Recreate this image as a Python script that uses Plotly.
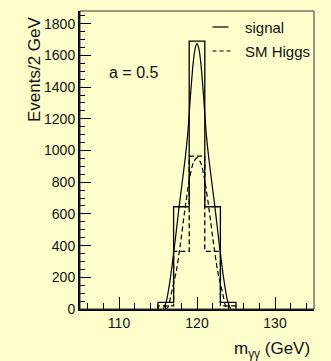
import plotly.graph_objects as go

# ---- data ----
bin_edges = [115, 117, 119, 121, 123, 125]
signal_counts = [42, 645, 1690, 645, 42]
sm_counts = [20, 364, 965, 364, 20]

signal_curve_x = [115.7, 116.1, 116.6, 117.15, 117.7, 118.45, 118.85, 119.15, 119.5, 119.75, 120.0,
                  120.25, 120.5, 120.85, 121.15, 121.55, 122.3, 122.85, 123.4, 123.9, 124.3]
signal_curve_y = [0, 55, 200, 410, 643, 935, 1127, 1337, 1548, 1640, 1674,
                  1640, 1548, 1337, 1127, 935, 643, 410, 200, 55, 0]

sm_curve_x = [116.0, 116.3, 116.7, 117.37, 117.88, 118.43, 119.0, 119.5, 120.0,
              120.5, 121.0, 121.57, 122.12, 122.63, 123.3, 123.7, 124.0]
sm_curve_y = [0, 13, 97, 244, 412, 621, 811, 920, 955,
              920, 811, 621, 412, 244, 97, 13, 0]

x_range = [105, 135]
y_range = [0, 1880]

BG = "#ffffcc"
FONT = "Liberation Sans, Arial, sans-serif"


def step_outline(edges, counts):
    xs = [edges[0]]
    ys = [0]
    for i, c in enumerate(counts):
        xs += [edges[i], edges[i + 1]]
        ys += [c, c]
    xs.append(edges[-1])
    ys.append(0)
    return xs, ys


fig = go.Figure()

hx, hy = step_outline(bin_edges, signal_counts)
fig.add_trace(go.Scatter(x=hx, y=hy, mode="lines", line=dict(color="black", width=1.3),
                         showlegend=False, hoverinfo="skip"))
hx2, hy2 = step_outline(bin_edges, sm_counts)
fig.add_trace(go.Scatter(x=hx2, y=hy2, mode="lines",
                         line=dict(color="black", width=1.3, dash="5px,3px"),
                         showlegend=False, hoverinfo="skip"))
fig.add_trace(go.Scatter(x=signal_curve_x, y=signal_curve_y, mode="lines",
                         line=dict(color="black", width=1.2, shape="spline", smoothing=0.6),
                         showlegend=False, hoverinfo="skip"))
fig.add_trace(go.Scatter(x=sm_curve_x, y=sm_curve_y, mode="lines",
                         line=dict(color="black", width=1.2, dash="5px,3px", shape="spline", smoothing=0.6),
                         showlegend=False, hoverinfo="skip"))

# plot area in pixels: left 80, right 314, top 11, bottom 309
L, R, T, B = 80, 314, 11, 309
W, H = R - L, B - T


def px(xp):
    return (xp - L) / W


def py(yp):
    return (B - yp) / H


fig.update_layout(
    width=331, height=361,
    margin=dict(l=L, r=331 - R, t=T, b=361 - B),
    paper_bgcolor=BG, plot_bgcolor=BG,
    font=dict(family=FONT, size=14, color="#111"),
    showlegend=False,
    xaxis=dict(range=x_range, showgrid=False, zeroline=False,
               showline=True, linecolor="black", linewidth=2,
               ticks="inside", ticklen=12, tickwidth=1.2, tickcolor="black",
               tick0=110, dtick=10,
               minor=dict(ticks="inside", ticklen=6, tickwidth=1.2, tickcolor="black", dtick=2, tick0=110),
               tickfont=dict(size=14, family=FONT, color="#111")),
    yaxis=dict(range=y_range, showgrid=False, zeroline=False,
               showline=True, linecolor="black", linewidth=2,
               ticks="inside", ticklen=11, tickwidth=1.2, tickcolor="black",
               tick0=0, dtick=200,
               minor=dict(ticks="inside", ticklen=5, tickwidth=1.2, tickcolor="black", dtick=50),
               tickfont=dict(size=14, family=FONT, color="#111")),
    shapes=[
        dict(type="rect", xref="paper", yref="paper", x0=0, x1=1, y0=0, y1=1,
             line=dict(color="#333", width=1)),
        dict(type="line", xref="paper", yref="paper", x0=px(212.5), x1=px(228.5), y0=py(27), y1=py(27),
             line=dict(color="black", width=1.2)),
        dict(type="line", xref="paper", yref="paper", x0=px(212.5), x1=px(232), y0=py(51), y1=py(51),
             line=dict(color="black", width=1.2, dash="4px,3px")),
    ],
    annotations=[
        dict(text="signal", xref="paper", yref="paper", x=px(242.5), y=py(27),
             xanchor="left", yanchor="middle", showarrow=False, font=dict(size=15, family=FONT, color="#111")),
        dict(text="SM Higgs", xref="paper", yref="paper", x=px(242.5), y=py(51),
             xanchor="left", yanchor="middle", showarrow=False, font=dict(size=15, family=FONT, color="#111")),
        dict(text="a = 0.5", xref="paper", yref="paper", x=px(106.5), y=py(72),
             xanchor="left", yanchor="middle", showarrow=False, font=dict(size=16, family=FONT, color="#111")),
        dict(text="Events/2 GeV", xref="paper", yref="paper", x=px(34), y=py(69),
             xanchor="center", yanchor="middle", textangle=-90, showarrow=False,
             font=dict(size=17, family=FONT, color="#111")),
        dict(text="m<sub>γγ</sub> (GeV)", xref="paper", yref="paper", x=px(311.5), y=py(350),
             xanchor="right", yanchor="middle", showarrow=False, font=dict(size=17, family=FONT, color="#111")),
    ],
)

fig.write_html("out.html")
